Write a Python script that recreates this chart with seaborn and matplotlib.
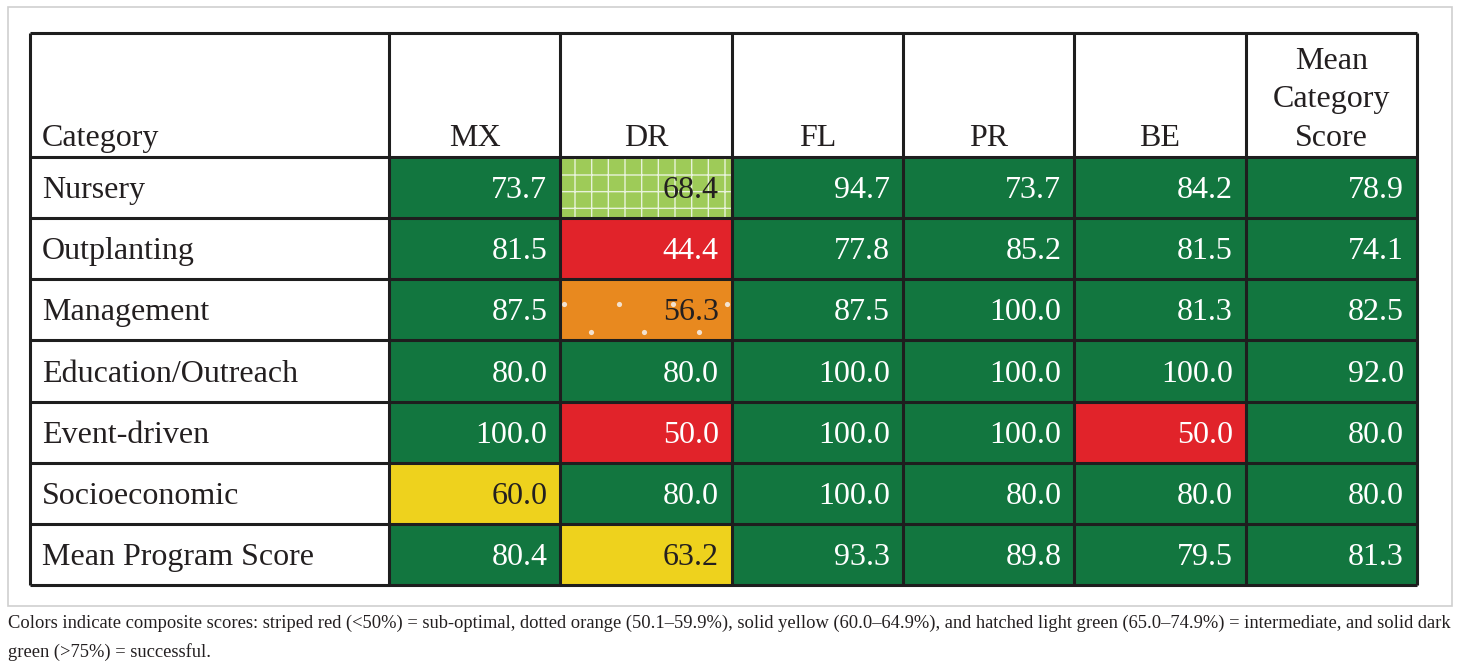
import numpy as np
import pandas as pd
import matplotlib
matplotlib.use("Agg")
import matplotlib.pyplot as plt
from matplotlib.colors import ListedColormap, BoundaryNorm
from matplotlib.patches import Rectangle
import seaborn as sns

# ---------------- data ----------------
categories = ["Nursery", "Outplanting", "Management", "Education/Outreach",
              "Event-driven", "Socioeconomic", "Mean Program Score"]
columns = ["MX", "DR", "FL", "PR", "BE", "Mean Category Score"]
mx = [73.7, 81.5, 87.5, 80.0, 100.0, 60.0, 80.4]
dr = [68.4, 44.4, 56.3, 80.0, 50.0, 80.0, 63.2]
fl = [94.7, 77.8, 87.5, 100.0, 100.0, 100.0, 93.3]
pr = [73.7, 85.2, 100.0, 100.0, 100.0, 80.0, 89.8]
be = [84.2, 81.5, 81.3, 100.0, 50.0, 80.0, 79.5]
mean_cat = [78.9, 74.1, 82.5, 92.0, 80.0, 80.0, 81.3]
header_first = "Category"
caption_lines = [
    "Colors indicate composite scores: striped red (<50%) = sub-optimal, dotted orange (50.1\u201359.9%), "
    "solid yellow (60.0\u201364.9%), and hatched light green (65.0\u201374.9%) = intermediate, and solid dark",
    "green (>75%) = successful.",
]

df = pd.DataFrame({"MX": mx, "DR": dr, "FL": fl, "PR": pr, "BE": be,
                   "Mean Category Score": mean_cat}, index=categories)

# ---------------- style ----------------
RED, ORANGE, YELLOW, LGREEN, DGREEN = "#E1232A", "#E8891F", "#EED21D", "#9ECB58", "#12763F"
cmap = ListedColormap([RED, ORANGE, YELLOW, LGREEN, DGREEN])
norm = BoundaryNorm([0, 50.05, 60, 65, 70, 101], cmap.N)
TXT = "#231F20"
SERIF = ["Liberation Serif", "DejaVu Serif"]
FS = 23

W, H = 1460, 669
fig = plt.figure(figsize=(W / 100, H / 100), dpi=100)
fig.patch.set_facecolor("white")

# table geometry in pixels
tx0, tx1 = 30, 1417
cx0 = 389
ty0, hy1, ty1 = 33, 157, 585
ax = fig.add_axes([cx0 / W, 1 - ty1 / H, (tx1 - cx0) / W, (ty1 - hy1) / H])

sns.heatmap(df, ax=ax, cmap=cmap, norm=norm, cbar=False, annot=True, fmt=".1f",
            xticklabels=False, yticklabels=False,
            annot_kws={"fontsize": FS, "family": SERIF})
ax.set_xlabel("")
ax.set_ylabel("")
ax.tick_params(length=0)

ncol, nrow = df.shape[1], df.shape[0]
px_x = (tx1 - cx0) / ncol          # pixels per column
px_y = (ty1 - hy1) / nrow          # pixels per row
catw = (cx0 - tx0) / px_x           # category column width (data units)
hdr = (hy1 - ty0) / px_y            # header height (data units)

vals = df.values
# patterns behind text
for i in range(nrow):
    for j in range(ncol):
        v = vals[i, j]
        c = cmap(norm(v))
        if 65 <= v < 70:
            ax.add_patch(Rectangle((j, i), 1, 1, facecolor="none", edgecolor="#E8F2DA",
                                   hatch="+", linewidth=0, zorder=1.5))
        elif 50.05 <= v < 60:
            fx = np.array([0.02, 0.34, 0.66, 0.97, 0.18, 0.49, 0.81])
            fy = np.array([0.41, 0.41, 0.41, 0.41, 0.87, 0.87, 0.87])
            ax.scatter(j + fx, i + fy, s=14, color="#F3E2CF", linewidths=0, zorder=1.6)

# annotation styling
pad = 13 / px_x
base = 10.5 / px_y
for t in ax.texts:
    x, y = t.get_position()
    j, i = int(x), int(y)
    v = vals[i, j]
    dark_txt = 50.05 <= v < 70
    t.set_color(TXT if dark_txt else "white")
    t.set_ha("right")
    t.set_va("baseline")
    t.set_position((j + 1 - pad, i + 0.5 + base))
    t.set_zorder(3)

# category labels
for i, name in enumerate(categories):
    ax.text(-catw + 12 / px_x, i + 0.5 + base, name, ha="left", va="baseline",
            fontsize=FS, family=SERIF, color=TXT, clip_on=False)

# header labels
hb = -(hy1 - 146) / px_y
ax.text(-catw + 12 / px_x, hb, header_first, ha="left", va="baseline",
        fontsize=FS, family=SERIF, color=TXT, clip_on=False)
for j, name in enumerate(columns):
    words = name.split(" ")
    n = len(words)
    for k, w in enumerate(words):
        yb = hb - (n - 1 - k) * 38.5 / px_y
        ax.text(j + 0.5, yb, w, ha="center", va="baseline", fontsize=FS,
                family=SERIF, color=TXT, clip_on=False)

# table borders
LW = 2.2
LC = "#1E1E1E"
ax.hlines([-hdr] + list(range(nrow + 1)), -catw, ncol, colors=LC, linewidth=LW,
          clip_on=False, zorder=4)
ax.vlines([-catw] + list(range(ncol + 1)), -hdr, nrow, colors=LC, linewidth=LW,
          clip_on=False, zorder=4)
ax.set_xlim(0, ncol)
ax.set_ylim(nrow, 0)

# outer light frame
fig.add_artist(Rectangle((8 / W, 1 - 606 / H), (1452 - 8) / W, (606 - 7) / H,
                         transform=fig.transFigure, facecolor="none",
                         edgecolor="#CFCFCF", linewidth=1.2))

# caption, fitted to width
cap1 = fig.text(8 / W, 1 - 628 / H, caption_lines[0], ha="left", va="baseline",
                fontsize=14, family=SERIF, color=TXT)
fig.canvas.draw()
wpx = cap1.get_window_extent().width
cfs = 14 * (1444 / wpx)
cap1.set_fontsize(cfs)
fig.text(8 / W, 1 - 657 / H, caption_lines[1], ha="left", va="baseline",
         fontsize=cfs, family=SERIF, color=TXT)

fig.savefig("out.png", dpi=100, facecolor="white")
